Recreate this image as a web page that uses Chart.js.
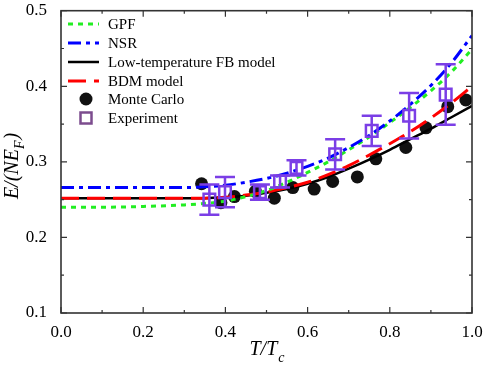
<!DOCTYPE html>
<html>
<head>
<meta charset="utf-8">
<title>E/(NE_F) vs T/Tc</title>
<style>
  body { margin: 0; background: #fff; }
  #wrap { width: 484px; height: 375px; }
</style>
</head>
<body>
<div id="wrap"><canvas id="chart" width="484" height="375"></canvas></div>
<script src="https://cdn.jsdelivr.net/npm/chart.js"></script>
<script>
// values
const curveT = [0, 0.1, 0.2, 0.3, 0.35, 0.4, 0.45, 0.5, 0.55, 0.6, 0.65, 0.7, 0.75, 0.8, 0.85, 0.9, 0.95, 1.0];
const gpf = [0.240, 0.240, 0.241, 0.243, 0.245, 0.248, 0.254, 0.262, 0.273, 0.286, 0.300, 0.316, 0.333, 0.352, 0.372, 0.394, 0.419, 0.449];
const nsr = [0.266, 0.266, 0.266, 0.266, 0.267, 0.269, 0.273, 0.278, 0.285, 0.294, 0.305, 0.319, 0.335, 0.354, 0.376, 0.401, 0.431, 0.467];
const fbModel = [0.252, 0.252, 0.252, 0.252, 0.252, 0.253, 0.255, 0.259, 0.264, 0.271, 0.280, 0.291, 0.303, 0.316, 0.330, 0.344, 0.359, 0.374];
const bdmModel = [0.252, 0.252, 0.252, 0.252, 0.252, 0.253, 0.256, 0.260, 0.266, 0.273, 0.283, 0.295, 0.309, 0.324, 0.340, 0.358, 0.378, 0.400];

const mcT = [0.342, 0.389, 0.422, 0.473, 0.519, 0.564, 0.616, 0.661, 0.721, 0.766, 0.839, 0.888, 0.941, 0.985];
const mcE = [0.271, 0.246, 0.254, 0.261, 0.252, 0.266, 0.264, 0.274, 0.280, 0.304, 0.319, 0.345, 0.373, 0.382];

const expT = [0.361, 0.399, 0.484, 0.533, 0.573, 0.667, 0.756, 0.847, 0.936];
const expE = [0.250, 0.260, 0.260, 0.274, 0.292, 0.310, 0.341, 0.361, 0.389];
const expErr = [0.020, 0.020, 0.010, 0.008, 0.010, 0.020, 0.020, 0.030, 0.040];

const xTicks = [0, 0.2, 0.4, 0.6, 0.8, 1.0];
const xMinor = [0.1, 0.3, 0.5, 0.7, 0.9];
const yTicks = [0.1, 0.2, 0.3, 0.4, 0.5];
const yMinor = [0.15, 0.25, 0.35, 0.45];

const labels = ['GPF', 'NSR', 'Low-temperature FB model', 'BDM model', 'Monte Carlo', 'Experiment'];

const serif = '"Liberation Serif", "Times New Roman", serif';
const purple = '#7b3ee6';

function pts(xs, ys) {
  return xs.map((x, i) => ({ x: x, y: ys[i] }));
}

const lineStyles = [
  { color: '#22ee22', dash: [5, 5], width: 3 },
  { color: '#0000ff', dash: [13, 5, 4, 5], width: 3 },
  { color: '#000000', dash: [], width: 2.5 },
  { color: '#ff0000', dash: [18, 8], width: 3 }
];
const curves = [gpf, nsr, fbModel, bdmModel];

const datasets = curves.map((c, i) => ({
  label: labels[i],
  type: 'line',
  data: pts(curveT, c),
  borderColor: lineStyles[i].color,
  borderDash: lineStyles[i].dash,
  borderWidth: lineStyles[i].width,
  pointRadius: 0,
  tension: 0.4,
  cubicInterpolationMode: 'monotone',
  fill: false,
  order: [3, 2, 5, 4][i]
}));

datasets.push({
  label: labels[4],
  type: 'scatter',
  data: pts(mcT, mcE),
  pointStyle: 'circle',
  pointRadius: 6.5,
  backgroundColor: '#111',
  borderColor: '#111',
  borderWidth: 0,
  order: 6
});

datasets.push({
  label: labels[5],
  type: 'scatter',
  data: pts(expT, expE),
  pointStyle: 'rect',
  pointRadius: 8.2,
  backgroundColor: 'rgba(0,0,0,0)',
  borderColor: purple,
  borderWidth: 2.5,
  order: 1
});

// error bars, frame, ticks, axis titles and legend
const decor = {
  id: 'decor',
  afterDatasetsDraw(chart) {
    const ctx = chart.ctx;
    const xs = chart.scales.x, ys = chart.scales.y;
    ctx.save();
    ctx.strokeStyle = purple;
    ctx.lineWidth = 2.5;
    expT.forEach((t, i) => {
      const px = xs.getPixelForValue(t);
      const top = ys.getPixelForValue(expE[i] + expErr[i]);
      const bot = ys.getPixelForValue(expE[i] - expErr[i]);
      ctx.beginPath();
      ctx.moveTo(px, top); ctx.lineTo(px, bot);
      ctx.moveTo(px - 10, top); ctx.lineTo(px + 10, top);
      ctx.moveTo(px - 10, bot); ctx.lineTo(px + 10, bot);
      ctx.stroke();
    });
    ctx.restore();
  },
  afterDraw(chart) {
    const ctx = chart.ctx;
    const a = chart.chartArea;
    const xs = chart.scales.x, ys = chart.scales.y;
    ctx.save();
    // frame
    ctx.strokeStyle = '#333';
    ctx.lineWidth = 1.6;
    ctx.strokeRect(a.left, a.top, a.right - a.left, a.bottom - a.top);
    // inward ticks on all sides
    ctx.lineWidth = 1.2;
    ctx.beginPath();
    const xt = (v, len) => {
      const p = xs.getPixelForValue(v);
      ctx.moveTo(p, a.bottom); ctx.lineTo(p, a.bottom - len);
      ctx.moveTo(p, a.top); ctx.lineTo(p, a.top + len);
    };
    const yt = (v, len) => {
      const p = ys.getPixelForValue(v);
      ctx.moveTo(a.left, p); ctx.lineTo(a.left + len, p);
      ctx.moveTo(a.right, p); ctx.lineTo(a.right - len, p);
    };
    xTicks.forEach(v => xt(v, 6));
    xMinor.forEach(v => xt(v, 3));
    yTicks.forEach(v => yt(v, 6));
    yMinor.forEach(v => yt(v, 3));
    ctx.stroke();

    // x title T/T_c
    ctx.fillStyle = '#000';
    ctx.textBaseline = 'alphabetic';
    ctx.font = 'italic 20px ' + serif;
    const main = 'T/T';
    ctx.font = 'italic 14px ' + serif;
    const subW = ctx.measureText('c').width;
    ctx.font = 'italic 20px ' + serif;
    const mainW = ctx.measureText(main).width;
    let sx = (a.left + a.right) / 2 - (mainW + subW) / 2;
    ctx.textAlign = 'left';
    ctx.fillText(main, sx, 355);
    ctx.font = 'italic 14px ' + serif;
    ctx.fillText('c', sx + mainW + 1, 362);

    // y title E/(NE_F)
    ctx.save();
    ctx.translate(18, 166);
    ctx.rotate(-Math.PI / 2);
    ctx.font = 'italic 20px ' + serif;
    const p1 = 'E/(NE', p3 = ')';
    const w1 = ctx.measureText(p1).width, w3 = ctx.measureText(p3).width;
    ctx.font = 'italic 14px ' + serif;
    const w2 = ctx.measureText('F').width;
    let tx = -(w1 + w2 + w3 + 1) / 2;
    ctx.font = 'italic 20px ' + serif;
    ctx.fillText(p1, tx, 0);
    ctx.font = 'italic 14px ' + serif;
    ctx.fillText('F', tx + w1, 6);
    ctx.font = 'italic 20px ' + serif;
    ctx.fillText(p3, tx + w1 + w2 + 1, 0);
    ctx.restore();

    // legend
    const rowY = [24, 43, 62, 81, 99, 118];
    ctx.font = '15px ' + serif;
    ctx.textBaseline = 'middle';
    lineStyles.forEach((s, i) => {
      ctx.strokeStyle = s.color;
      ctx.lineWidth = s.width;
      ctx.setLineDash(s.dash);
      ctx.beginPath();
      ctx.moveTo(68, rowY[i]); ctx.lineTo(99, rowY[i]);
      ctx.stroke();
    });
    ctx.setLineDash([]);
    ctx.fillStyle = '#111';
    ctx.beginPath();
    ctx.arc(86, rowY[4], 6.5, 0, Math.PI * 2);
    ctx.fill();
    ctx.strokeStyle = '#7c4c8e';
    ctx.lineWidth = 2.5;
    ctx.strokeRect(80.5, rowY[5] - 5.5, 11, 11);
    ctx.fillStyle = '#000';
    labels.forEach((t, i) => ctx.fillText(t, 108, rowY[i] + 1));
    ctx.restore();
  }
};

new Chart(document.getElementById('chart'), {
  type: 'scatter',
  data: { datasets: datasets },
  options: {
    responsive: false,
    animation: false,
    layout: { padding: { left: 0, top: 9, right: 12, bottom: 0 } },
    plugins: { legend: { display: false }, tooltip: { enabled: false } },
    scales: {
      x: {
        type: 'linear', min: 0, max: 1,
        grid: { display: false },
        border: { display: false },
        afterBuildTicks: s => { s.ticks = xTicks.map(v => ({ value: v })); },
        afterFit: s => { s.height = 62; s.paddingLeft = 0; s.paddingRight = 0; },
        ticks: {
          color: '#000', padding: 1, maxRotation: 0,
          font: { family: serif, size: 17 },
          callback: v => v.toFixed(1)
        }
      },
      y: {
        type: 'linear', min: 0.1, max: 0.5,
        grid: { display: false },
        border: { display: false },
        afterBuildTicks: s => { s.ticks = yTicks.map(v => ({ value: v })); },
        afterFit: s => { s.width = 61; s.paddingTop = 0; s.paddingBottom = 0; },
        ticks: {
          color: '#000', padding: 6,
          font: { family: serif, size: 17 },
          callback: v => v.toFixed(1)
        }
      }
    }
  },
  plugins: [decor]
});
</script>
</body>
</html>
